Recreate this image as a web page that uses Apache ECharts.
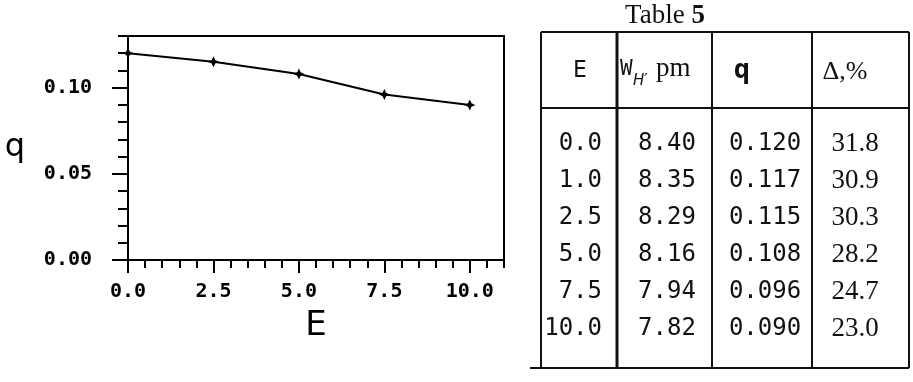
<!DOCTYPE html>
<html>
<head>
<meta charset="utf-8">
<script src="https://cdn.jsdelivr.net/npm/echarts@6/dist/echarts.min.js"></script>
<style>
  html, body { margin: 0; padding: 0; background: #fff; }
  #chart { width: 913px; height: 382px; }
</style>
</head>
<body>
<div id="chart"></div>
<script>
// plotted points (E, q)
const plotE = [0, 2.5, 5, 7.5, 10]
const plotQ = [0.120, 0.115, 0.108, 0.096, 0.090]
const xTicks = [0, 2.5, 5, 7.5, 10]
const yTicks = [0, 0.05, 0.10]

// Table 5
const tableTitle = 'Table '
const tableNo = '5'
const colE = ['0.0', '1.0', '2.5', '5.0', '7.5', '10.0']
const colW = ['8.40', '8.35', '8.29', '8.16', '7.94', '7.82']
const colQ = ['0.120', '0.117', '0.115', '0.108', '0.096', '0.090']
const colD = ['31.8', '30.9', '30.3', '28.2', '24.7', '23.0']

const MONO = 'DejaVu Sans Mono'
const SERIF = 'Liberation Serif'
const INK = '#111'

const chart = echarts.init(document.getElementById('chart'))

function hline(x1, x2, y, w) {
  return { type: 'line', shape: { x1: x1, y1: y, x2: x2, y2: y }, style: { stroke: INK, lineWidth: w || 2 } }
}
function vline(x, y1, y2, w) {
  return { type: 'line', shape: { x1: x, y1: y1, x2: x, y2: y2 }, style: { stroke: INK, lineWidth: w || 2 } }
}
function txt(x, y, text, font, size, align, extra) {
  return {
    type: 'text', x: x, y: y,
    style: Object.assign({ text: text, fontFamily: font, fontSize: size, fill: INK, align: align || 'center', verticalAlign: 'middle' }, extra || {})
  }
}

const tableEls = [
  {
    type: 'text', x: 665, y: 16,
    style: {
      text: '{t|' + tableTitle + '}{b|' + tableNo + '}',
      align: 'center', verticalAlign: 'middle',
      rich: {
        t: { fontFamily: SERIF, fontSize: 27, fill: INK },
        b: { fontFamily: SERIF, fontSize: 27, fontWeight: 'bold', fill: INK }
      }
    }
  },
  hline(541, 909, 32),
  hline(541, 909, 108),
  hline(530, 909, 368),
  vline(541, 32, 368),
  vline(617, 32, 368, 3),
  vline(712, 32, 368),
  vline(812, 32, 368),
  vline(909, 32, 368),
  // header
  txt(580, 71, 'E', MONO, 23),
  txt(620, 70, 'W', MONO, 21, 'left'),
  txt(633, 81, 'H\u2032', 'DejaVu Sans', 15, 'left', { fontStyle: 'italic' }),
  txt(656, 69, 'pm', SERIF, 27, 'left'),
  txt(742, 71, 'q', MONO, 27, 'center', { fontWeight: 'bold' }),
  txt(845, 72, '\u0394,%', SERIF, 26)
]

colE.forEach((v, i) => {
  const y = 144 + 37 * i
  tableEls.push(txt(602, y, v, MONO, 24, 'right'))
  tableEls.push(txt(667, y, colW[i], MONO, 24))
  tableEls.push(txt(765, y, colQ[i], MONO, 24))
  tableEls.push(txt(855, y, colD[i], SERIF, 27))
})

const labelStyle = { fontFamily: MONO, fontWeight: 'bold', fontSize: 20, color: '#000' }

chart.setOption({
  animation: false,
  backgroundColor: '#fff',
  grid: {
    left: 128, right: 409, top: 36, bottom: 122,
    show: true, borderColor: '#000', borderWidth: 2, backgroundColor: 'transparent'
  },
  xAxis: [
    {
      type: 'value', min: 0, max: 11, interval: 0.5,
      axisLine: { lineStyle: { color: '#000', width: 2 } },
      axisTick: { length: 8, lineStyle: { color: '#000', width: 2 } },
      axisLabel: Object.assign({ customValues: xTicks, margin: 22, formatter: v => v.toFixed(1) }, labelStyle),
      splitLine: { show: false },
      name: 'E', nameLocation: 'middle', nameGap: 49,
      nameTextStyle: { fontFamily: 'DejaVu Sans', fontSize: 34, color: '#000' }
    },
    {
      type: 'value', min: 0, max: 11, position: 'bottom',
      axisLine: { show: false },
      axisTick: { customValues: xTicks, length: 13, lineStyle: { color: '#000', width: 2 } },
      axisLabel: { show: false },
      splitLine: { show: false }
    }
  ],
  yAxis: [
    {
      type: 'value', min: 0, max: 0.13, interval: 0.01,
      axisLine: { lineStyle: { color: '#000', width: 2 } },
      axisTick: { length: 10, lineStyle: { color: '#000', width: 2 } },
      axisLabel: Object.assign({ customValues: yTicks, margin: 36, formatter: v => v.toFixed(2) }, labelStyle),
      splitLine: { show: false },
      name: 'q', nameLocation: 'middle', nameGap: 103, nameRotate: 0,
      nameTextStyle: { fontFamily: 'DejaVu Sans', fontSize: 32, color: '#000', padding: [18, 0, 0, 0] }
    },
    {
      type: 'value', min: 0, max: 0.13, position: 'left',
      axisLine: { show: false },
      axisTick: { customValues: yTicks, length: 16, lineStyle: { color: '#000', width: 2 } },
      axisLabel: { show: false },
      splitLine: { show: false }
    }
  ],
  series: [
    {
      type: 'line',
      xAxisIndex: 0, yAxisIndex: 0,
      data: plotE.map((e, i) => [e, plotQ[i]]),
      symbol: 'path://M0,-5L1.6,-1.6L5,0L1.6,1.6L0,5L-1.6,1.6L-5,0L-1.6,-1.6Z',
      symbolSize: 11,
      lineStyle: { color: '#000', width: 2 },
      itemStyle: { color: '#000' }
    }
  ],
  graphic: tableEls
})
</script>
</body>
</html>
